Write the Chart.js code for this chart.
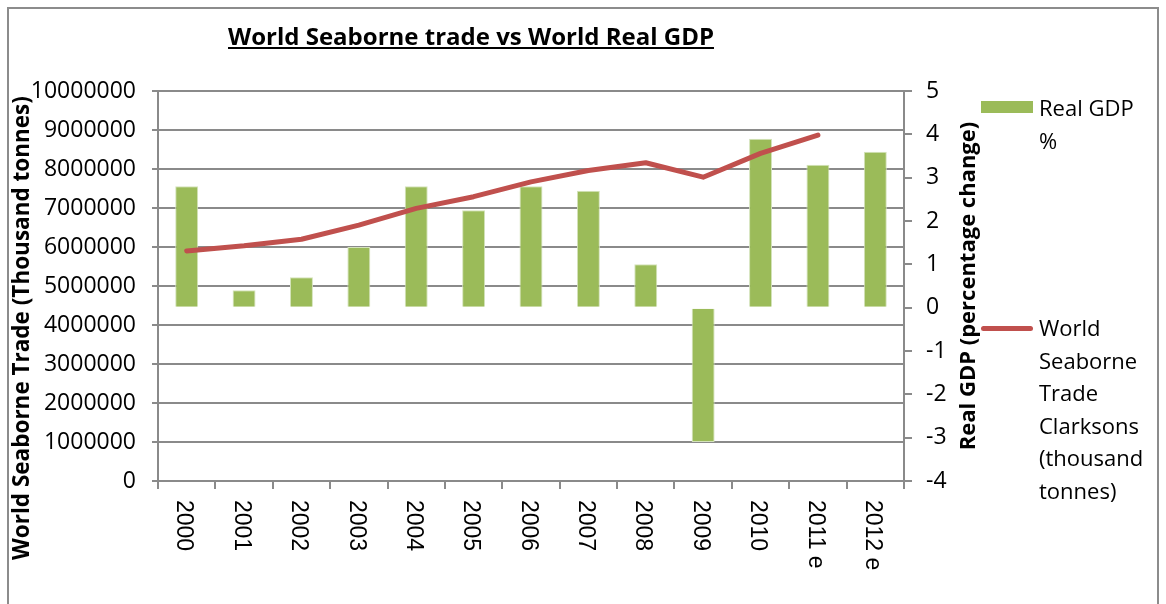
<!DOCTYPE html>
<html lang="en">
<head>
    <meta charset="UTF-8">
    <title>World Seaborne trade vs World Real GDP</title>
    <style>
        body { margin: 0; background: #fff; font-family: "Open Sans", sans-serif; }
        #wrap { position: relative; width: 1166px; height: 604px; overflow: hidden; }
        #frame { position: absolute; left: 7px; top: 7px; width: 1152px; height: 640px; border: 2px solid #8c8c8c; box-sizing: border-box; }
        #title { position: absolute; left: 0; width: 942px; top: 19px; text-align: center; font-weight: bold; font-size: 24px; text-decoration: underline; color: #000; }
        .leg { position: absolute; left: 981px; font-size: 22px; line-height: 32.5px; color: #000; }
        .leg .sw { position: absolute; left: 0; width: 52px; }
        .leg .tx { position: absolute; left: 58px; width: 118px; }
    </style>
</head>
<body>
    <div id="wrap">
        <div id="frame"></div>
        <canvas id="myChart"></canvas>
        <div id="title">World Seaborne trade vs World Real GDP</div>
        <div id="legend"></div>
    </div>

    <script src="https://cdn.jsdelivr.net/npm/chart.js@4/dist/chart.umd.min.js"></script>
    <script>

        // categories
        var years = ['2000', '2001', '2002', '2003', '2004', '2005', '2006', '2007', '2008', '2009', '2010', '2011 e', '2012 e'];

        // Real GDP, percentage change (right axis)
        var gdpLabel = 'Real GDP %';
        var gdpChange = [2.8, 0.4, 0.7, 1.4, 2.8, 2.25, 2.8, 2.7, 1.0, -3.1, 3.9, 3.3, 3.6];

        // World seaborne trade, thousand tonnes (left axis)
        var tradeLabel = 'World Seaborne Trade Clarksons (thousand tonnes)';
        var seaborneTrade = [5900000, 6030000, 6200000, 6560000, 6990000, 7290000, 7670000, 7960000, 8160000, 7790000, 8400000, 8870000, null];

        var leftTitle = 'World Seaborne Trade (Thousand tonnes)';
        var rightTitle = 'Real GDP (percentage change)';

        var green = '#9BBB59';
        var red = '#C0504D';
        var gridGrey = '#8a8a8a';

        // x labels read top-to-bottom and axis titles, drawn on top of the library's scales
        var extras = {
            id: 'extras',
            afterDraw: function(chart) {
                var ctx = chart.ctx;
                var area = chart.chartArea;
                var xs = chart.scales.x;
                ctx.save();
                ctx.fillStyle = '#000';
                ctx.font = '23px "Liberation Sans"';
                ctx.textAlign = 'left';
                ctx.textBaseline = 'middle';
                years.forEach(function(lab, i) {
                    ctx.save();
                    ctx.translate(xs.getPixelForValue(i) - 3, area.bottom + 19);
                    ctx.rotate(Math.PI / 2);
                    ctx.fillText(lab, 0, 0);
                    ctx.restore();
                });

                ctx.font = 'bold 22.5px "Open Sans"';
                ctx.textAlign = 'center';
                ctx.save();
                ctx.translate(23, 328);
                ctx.rotate(-Math.PI / 2);
                ctx.fillText(leftTitle, 0, 0);
                ctx.restore();

                ctx.font = 'bold 22px "Open Sans"';
                ctx.save();
                ctx.translate(969, 286);
                ctx.rotate(-Math.PI / 2);
                ctx.fillText(rightTitle, 0, 0);
                ctx.restore();
                ctx.restore();
            }
        };

        function buildLegend() {
            var el = document.getElementById('legend');
            el.innerHTML =
                '<div class="leg" style="top:91px"><div class="sw" style="top:10px;height:12px;background:' + green + '"></div>' +
                '<div class="tx">' + gdpLabel + '</div></div>' +
                '<div class="leg" style="top:311px"><div class="sw" style="top:15px;height:5px;border-radius:3px;background:' + red + '"></div>' +
                '<div class="tx">' + tradeLabel + '</div></div>';
        }

        function createChart() {
            var ctx = document.getElementById('myChart').getContext('2d');
            new Chart(ctx, {
                data: {
                    labels: years,
                    datasets: [
                        {
                            type: 'line',
                            label: tradeLabel,
                            data: seaborneTrade,
                            yAxisID: 'y',
                            borderColor: red,
                            borderWidth: 5,
                            borderCapStyle: 'round',
                            borderJoinStyle: 'round',
                            pointRadius: 0,
                            tension: 0,
                            order: 0
                        },
                        {
                            type: 'bar',
                            label: gdpLabel,
                            data: gdpChange,
                            yAxisID: 'y1',
                            backgroundColor: green,
                            borderColor: '#d4e3bb',
                            borderWidth: 1,
                            barPercentage: 0.4,
                            categoryPercentage: 1,
                            order: 1
                        }
                    ]
                },
                options: {
                    responsive: true,
                    maintainAspectRatio: false,
                    animation: false,
                    layout: { padding: { top: 91, left: 0, right: 0, bottom: 0 } },
                    plugins: {
                        legend: { display: false },
                        title: { display: false },
                        tooltip: { enabled: false }
                    },
                    scales: {
                        x: {
                            offset: true,
                            grid: { display: true, drawOnChartArea: false, drawTicks: true, tickLength: 8, color: gridGrey, lineWidth: 2, offset: true },
                            border: { display: true, color: gridGrey, width: 2 },
                            ticks: { display: false },
                            afterFit: function(scale) { scale.height = 123; }
                        },
                        y: {
                            position: 'left',
                            min: 0,
                            max: 10000000,
                            grid: { color: gridGrey, lineWidth: 2, tickLength: 6 },
                            border: { color: gridGrey, width: 2 },
                            ticks: {
                                stepSize: 1000000,
                                color: '#000',
                                padding: 16,
                                font: { family: '"Open Sans"', size: 23 },
                                callback: function(v) { return String(v); }
                            },
                            afterFit: function(scale) { scale.width = 158; }
                        },
                        y1: {
                            position: 'right',
                            min: -4,
                            max: 5,
                            grid: { drawOnChartArea: false, color: gridGrey, lineWidth: 2, tickLength: 8 },
                            border: { color: gridGrey, width: 2 },
                            ticks: {
                                stepSize: 1,
                                color: '#000',
                                padding: 14,
                                font: { family: '"Open Sans"', size: 23 }
                            },
                            afterFit: function(scale) { scale.width = 262; }
                        }
                    }
                },
                plugins: [extras]
            });
        }

        buildLegend();
        createChart();

    </script>
</body>
</html>
